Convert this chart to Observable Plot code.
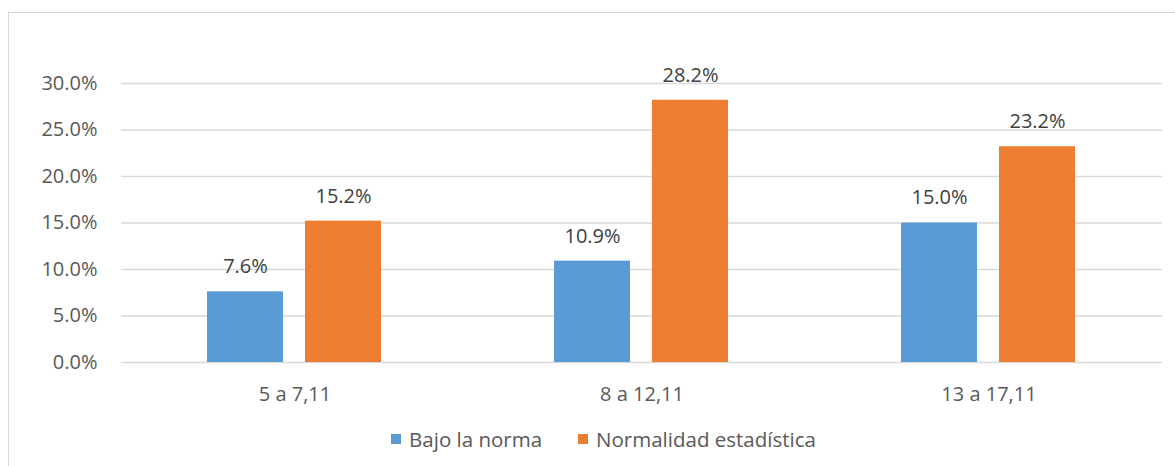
<!DOCTYPE html>
<html>
<head>
<meta charset="utf-8">
<script src="https://cdn.jsdelivr.net/npm/d3@7"></script>
<script src="https://cdn.jsdelivr.net/npm/@observablehq/plot@0.6"></script>
<style>
  html, body { margin: 0; padding: 0; background: #fff; overflow: hidden; }
  #wrap { position: relative; width: 1175px; height: 466px; font-family: "Open Sans", sans-serif; }
  #frame { position: absolute; left: 8px; top: 12px; width: 1180px; height: 470px; border: 1.5px solid #d9d9d9; box-sizing: border-box; }
  #chart { position: absolute; left: 0; top: 0; }
  #legend { position: absolute; left: 0; top: 425px; width: 1175px; display: flex; justify-content: center; padding-left: 32px; box-sizing: border-box; font-size: 20.5px; color: #595959; }
  .item { display: flex; align-items: center; margin: 0 18px; }
  .sw { width: 10px; height: 10px; margin-right: 8px; }
</style>
</head>
<body>
<div id="wrap">
  <div id="frame"></div>
  <div id="chart"></div>
  <div id="legend"></div>
</div>
<script>
const groups = ["5 a 7,11", "8 a 12,11", "13 a 17,11"];
const series = ["Bajo la norma", "Normalidad estadística"];
const bajoLaNorma = [7.6, 10.9, 15.0];
const normalidad = [15.2, 28.2, 23.2];
const colors = ["#5B9BD5", "#ED7D31"];
const yTicks = [0, 5, 10, 15, 20, 25, 30];

const data = groups.flatMap((g, i) => [
  {group: g, series: series[0], value: bajoLaNorma[i]},
  {group: g, series: series[1], value: normalidad[i]}
]);

const chart = Plot.plot({
  width: 1175,
  height: 410,
  marginLeft: 120,
  marginRight: 13,
  marginTop: 83,
  marginBottom: 48,
  style: {fontFamily: "'Open Sans', sans-serif", fontSize: "20px", color: "#595959", background: "transparent"},
  fx: {domain: groups, padding: 0, label: null, tickSize: 0, tickPadding: 24, axis: "bottom"},
  x: {domain: series, axis: null, paddingInner: 0.222, paddingOuter: 0.864},
  y: {domain: [0, 30], ticks: yTicks, tickFormat: d => d.toFixed(1) + "%", label: null, tickSize: 0, tickPadding: 24},
  color: {domain: series, range: colors},
  marks: [
    Plot.ruleY(yTicks, {stroke: "#d9d9d9", strokeWidth: 1.5}),
    Plot.barY(data, {fx: "group", x: "series", y: "value", fill: "series"}),
    Plot.text(data, {fx: "group", x: "series", y: "value", text: d => d.value.toFixed(1) + "%", dy: -25, fill: "#404040", fontSize: 20})
  ]
});
document.getElementById("chart").appendChild(chart);

const legend = document.getElementById("legend");
series.forEach((s, i) => {
  const item = document.createElement("div");
  item.className = "item";
  const sw = document.createElement("span");
  sw.className = "sw";
  sw.style.background = colors[i];
  const label = document.createElement("span");
  label.textContent = s;
  item.appendChild(sw);
  item.appendChild(label);
  legend.appendChild(item);
});
</script>
</body>
</html>
